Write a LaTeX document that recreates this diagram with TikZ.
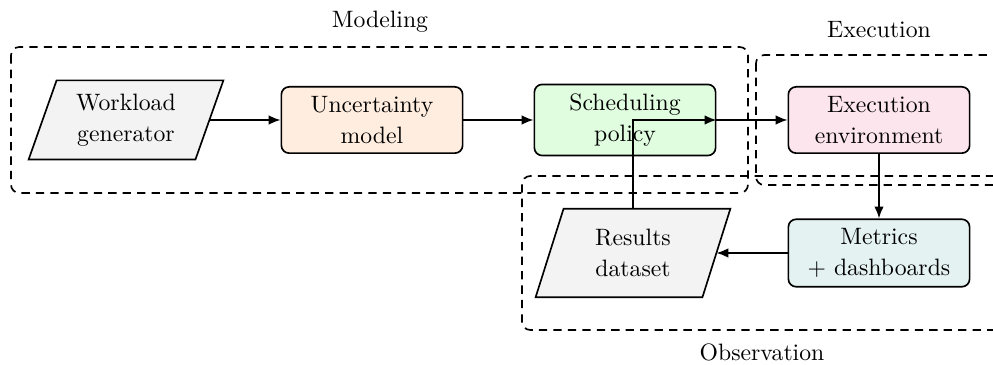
\documentclass[tikz,border=0pt]{standalone}
\usetikzlibrary{arrows.meta}
\definecolor{cgray}{HTML}{F3F3F3}
\definecolor{corange}{HTML}{FFEEE0}
\definecolor{cgreen}{HTML}{E0FDE0}
\definecolor{cpink}{HTML}{FCE5EC}
\definecolor{ccyan}{HTML}{E5F2F2}
\pgfdeclarelayer{bg}
\pgfsetlayers{bg,main}
\tikzset{
  procbox/.style={draw, line width=0.7pt, rounded corners=3.3pt, align=center,
    minimum width=76.5pt, minimum height=28pt, inner sep=2pt,
    font=\fontsize{10}{13}\selectfont},
  databox/.style={align=center, minimum width=70pt, inner sep=2pt,
    font=\fontsize{10}{13}\selectfont},
  pgram/.style={draw, line width=0.7pt, fill=cgray},
  groupbox/.style={draw, line width=0.7pt, dash pattern=on 3.5pt off 2.6pt, rounded corners=3.5pt},
  arr/.style={line width=0.7pt, -{Latex[length=5pt,width=4pt]}}
}
\begin{document}
\begin{tikzpicture}[x=0.422pt,y=-0.422pt]
\useasboundingbox (0,0) rectangle (993,365);
\clip (0,0) rectangle (993,365);

% group boxes
\draw[groupbox] (11,47) rectangle (748,193);
\draw[groupbox] (756,55) rectangle (1004,185);
\draw[groupbox] (522,176) rectangle (1004,330);
\node (lmod) at (380,22) {Modeling};
\node (lexe) at (879,30) {Execution};
\node (lobs) at (762,352) {Observation};

% nodes
\node[databox, minimum height=33pt] (w) at (126,120) {Workload\\generator};
\node[procbox, fill=corange] (u) at (372,120) {Uncertainty\\model};
\node[procbox, fill=cgreen, minimum height=30pt] (s) at (625,120) {Scheduling\\policy};
\node[procbox, fill=cpink] (e) at (879,120) {Execution\\environment};
\node[procbox, fill=ccyan, minimum height=28.5pt] (m) at (879,253) {Metrics\\+ dashboards};
\node[databox, minimum height=37pt] (r) at (633,253) {Results\\dataset};

\begin{pgfonlayer}{bg}
\draw[pgram] ([xshift=5.9pt]w.north west) -- ([xshift=5.9pt]w.north east)
  -- ([xshift=-5.9pt]w.south east) -- ([xshift=-5.9pt]w.south west) -- cycle;
\draw[pgram] ([xshift=5.9pt]r.north west) -- ([xshift=5.9pt]r.north east)
  -- ([xshift=-5.9pt]r.south east) -- ([xshift=-5.9pt]r.south west) -- cycle;
\end{pgfonlayer}

% connectors
\draw[arr] (w.east) -- (u.west);
\draw[arr] (u.east) -- (s.west);
\draw[arr] (s.east) -- (e.west);
\draw[arr] (e.south) -- (m.north);
\draw[arr] (m.west) -- (r.east);
\draw[arr] (r.north) |- (s.east);
\end{tikzpicture}
\end{document}
